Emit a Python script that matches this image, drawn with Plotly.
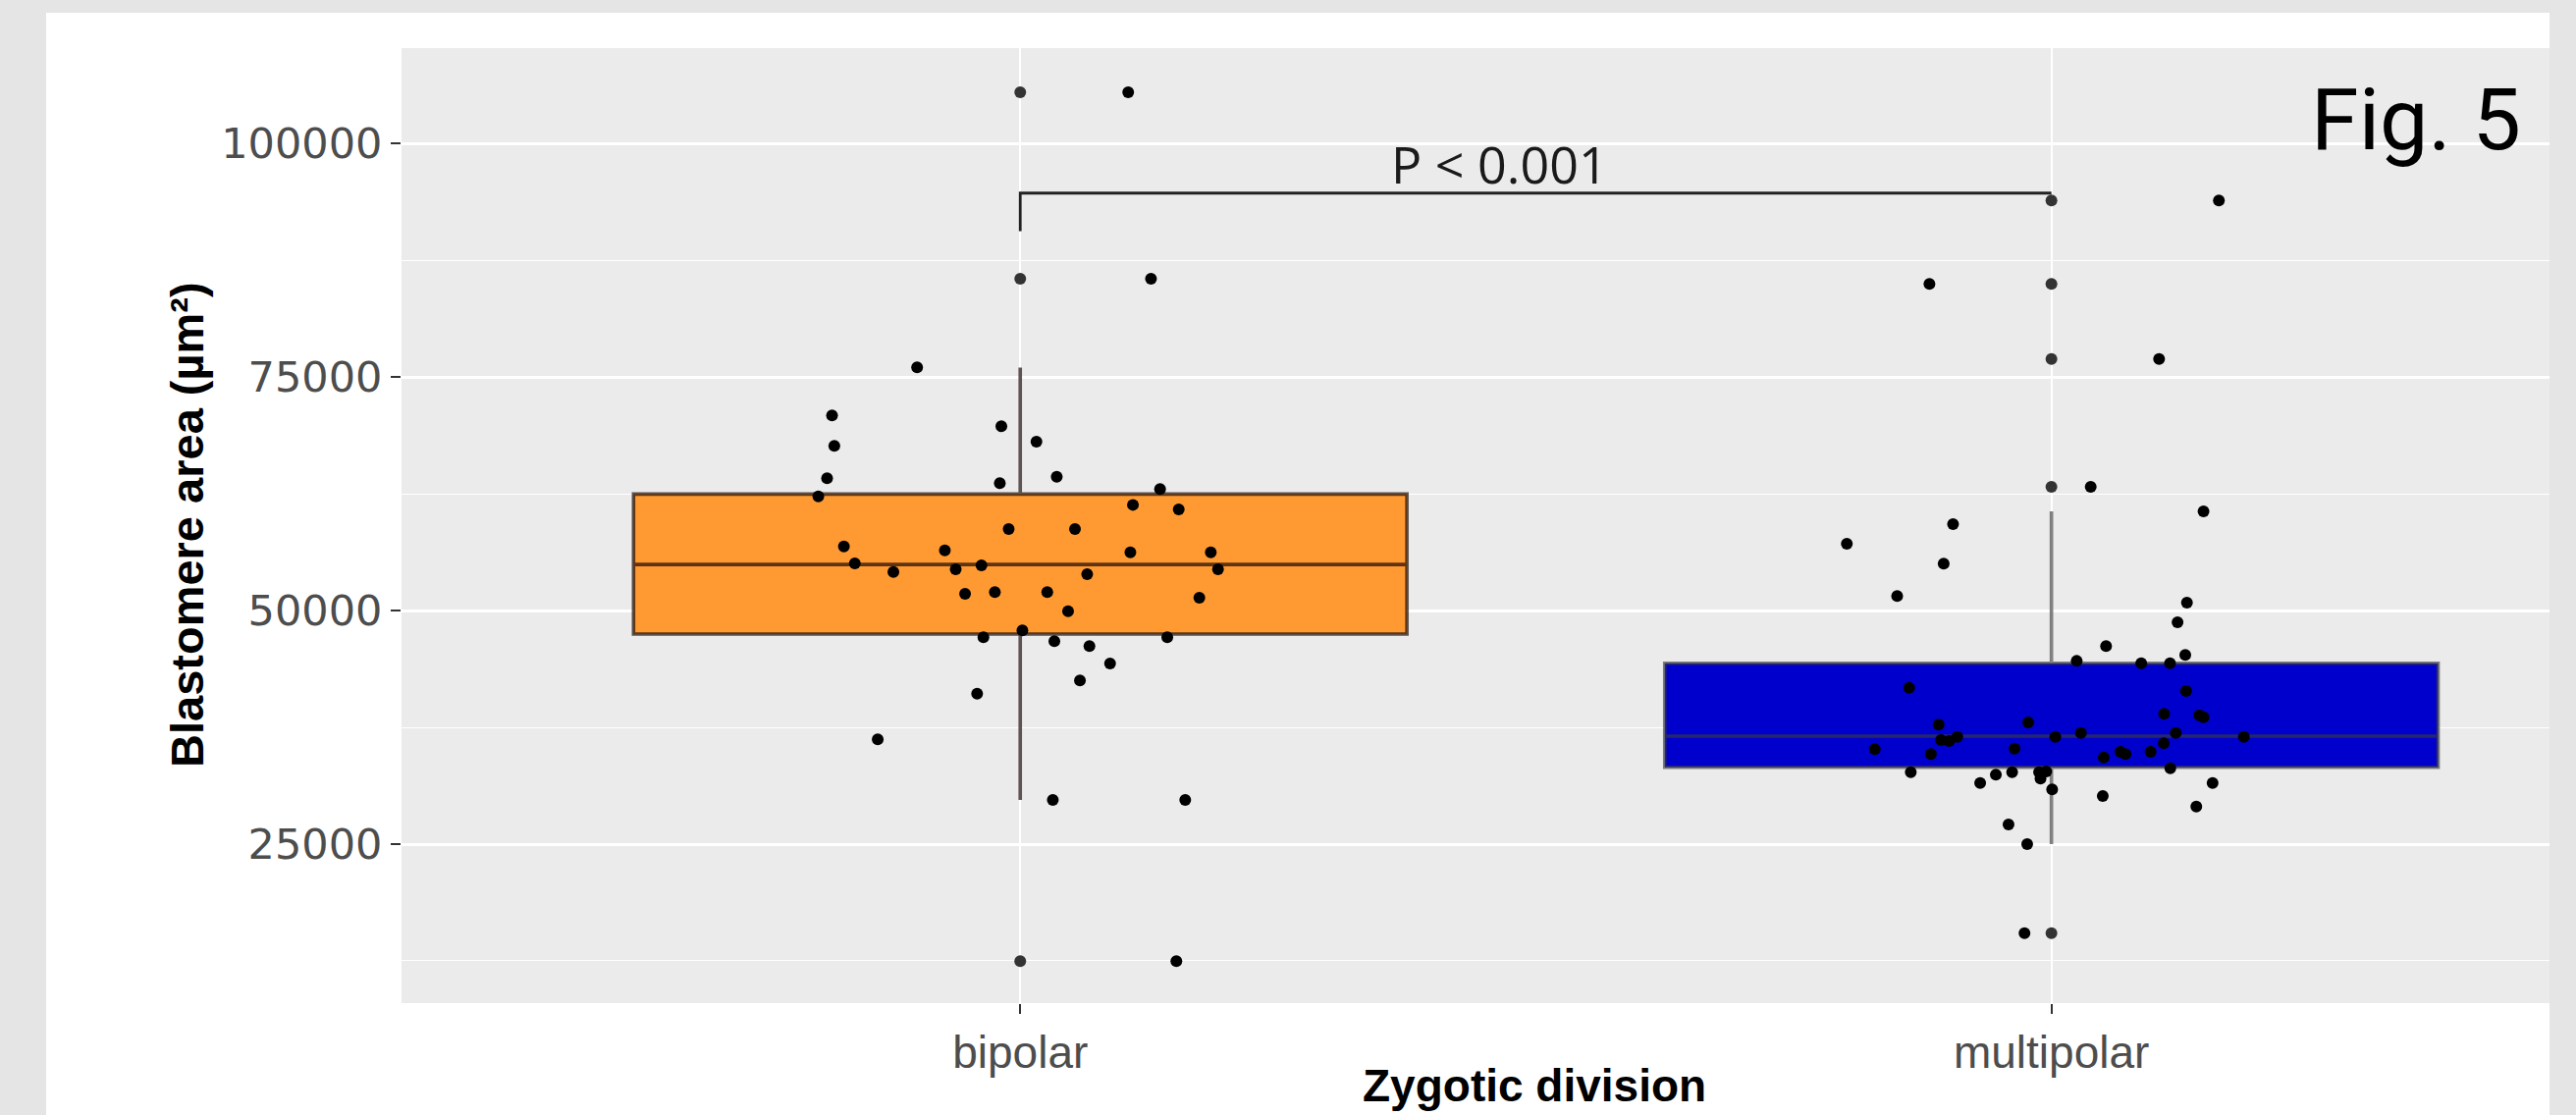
import plotly.graph_objects as go

# ---------------- data ----------------
categories = ["bipolar", "multipolar"]
cat_pos = [1, 2]

# box statistics per group (q1, median, q3, whisker ends)
box_q1 = [47490, 33230]
box_median = [54950, 36560]
box_q3 = [62490, 44370]
box_low = [29730, 25000]
box_high = [76030, 60630]
box_colors = ["#FF9A33", "#0000CC"]

# outliers drawn by the box plot (at the group centre)
bipolar_outliers = [105500, 85540, 12470]
multipolar_outliers = [93930, 84990, 76950, 63260, 15470]

# jittered observations: horizontal jitter (offset from group centre) and value
bipolar_jitter = [-0.100, -0.1825, -0.1803, -0.0183, 0.0157, -0.1873, -0.0198, 0.0354,
                  -0.1958, 0.1356, 0.1093, 0.1537, -0.0112, 0.0531, -0.171, -0.0731,
                  0.1068, 0.1848, -0.1604, -0.123, -0.0626, -0.0376, 0.0649, 0.1918,
                  -0.0535, -0.0246, 0.0262, 0.1737, 0.0464, 0.0021, -0.0357, 0.0331,
                  0.1426, 0.0671, 0.0871, 0.0579, -0.0418, -0.1382, 0.0316, 0.16,
                  0.1047, 0.1268, 0.1514]
bipolar_values = [76050, 70900, 67640, 69740, 68090, 64170, 63650, 64340,
                  62240, 63020, 61330, 60840, 58740, 58740, 56880, 56460,
                  56250, 56250, 55060, 54150, 54430, 54850, 53900, 54430,
                  51800, 51980, 51980, 51380, 49940, 47880, 47150, 46730,
                  47150, 46200, 44340, 42520, 41110, 36220, 29730, 29730,
                  105500, 85540, 12470]

multipolar_jitter = [0.0381, 0.1475, -0.0954, -0.1984, -0.1045, -0.1496, 0.1314, 0.1223,
                     0.053, 0.1298, 0.0245, 0.0871, 0.1150, -0.138, 0.1306, 0.1093,
                     0.1475, 0.1434, -0.1094, -0.0225, -0.1071, -0.0992, -0.0913, -0.1713,
                     0.0038, 0.0286, 0.1206, 0.1866, -0.0358, -0.1169, 0.0669, 0.0718,
                     0.0507, 0.0962, 0.1089, 0.1153, -0.1364, -0.0539, -0.0381, -0.012,
                     -0.005, -0.0106, -0.0691, 0.0007, 0.0498, 0.1563, 0.1405, -0.0416,
                     -0.0235, -0.0261, 0.1624, -0.1183, 0.1044]
multipolar_values = [63260, 60630, 59260, 57160, 55030, 51560, 50860, 48760,
                     46200, 45260, 44620, 44370, 44370, 41750, 41400, 38950,
                     38590, 38800, 37790, 38040, 36140, 36040, 36490, 35170,
                     36490, 36910, 36910, 36490, 35230, 34640, 34880, 34640,
                     34280, 34880, 35800, 33130, 32710, 32430, 32710, 32710,
                     32780, 32010, 31550, 30860, 30150, 31550, 29030, 27100,
                     25000, 15470, 93930, 84990, 76950]

y_ticks = [25000, 50000, 75000, 100000]
p_label = "P < 0.001"
bracket_y = 94710
bracket_drop = 90640

# ---------------- figure ----------------
fig = go.Figure()

box_line_colors = ["rgba(20,5,0,0.68)", "rgba(60,60,60,0.64)"]
for i in range(2):
    fig.add_trace(go.Box(
        x=[cat_pos[i]], q1=[box_q1[i]], median=[box_median[i]], q3=[box_q3[i]],
        lowerfence=[box_low[i]], upperfence=[box_high[i]],
        boxpoints=False, width=0.75, whiskerwidth=0,
        fillcolor=box_colors[i],
        line=dict(color=box_line_colors[i], width=3.6),
        hoverinfo="skip",
    ))

# outliers at group centres
fig.add_trace(go.Scatter(
    x=[cat_pos[0]] * len(bipolar_outliers) + [cat_pos[1]] * len(multipolar_outliers),
    y=bipolar_outliers + multipolar_outliers,
    mode="markers", marker=dict(color="#333333", size=12), hoverinfo="skip"))

# jittered points
fig.add_trace(go.Scatter(
    x=[cat_pos[0] + d for d in bipolar_jitter] + [cat_pos[1] + d for d in multipolar_jitter],
    y=bipolar_values + multipolar_values,
    mode="markers", marker=dict(color="black", size=12), hoverinfo="skip"))

# significance bracket
fig.add_trace(go.Scatter(
    x=[cat_pos[0], cat_pos[0], cat_pos[1]],
    y=[bracket_drop, bracket_y, bracket_y],
    mode="lines", line=dict(color="#222222", width=2.8), hoverinfo="skip"))

W, H = 2624, 1136
ml, mr, mt, mb = 409, 27, 49, 114
pw, ph = W - ml - mr, H - mt - mb

def px_x(px):
    return (px - ml) / pw

def px_y(py):
    return (H - mb - py) / ph

border = "#e5e5e5"
shapes = [
    dict(type="rect", xref="paper", yref="paper", x0=px_x(-10), x1=px_x(47), y0=px_y(H + 10), y1=px_y(-10),
         fillcolor=border, line=dict(width=0), layer="above"),
    dict(type="rect", xref="paper", yref="paper", x0=px_x(-10), x1=px_x(W + 10), y0=px_y(13), y1=px_y(-10),
         fillcolor=border, line=dict(width=0), layer="above"),
    dict(type="rect", xref="paper", yref="paper", x0=px_x(2597), x1=px_x(W + 10), y0=px_y(H + 10), y1=px_y(-10),
         fillcolor=border, line=dict(width=0), layer="above"),
]

annotations = [
    dict(text=p_label, x=1.465, y=97900, xref="x", yref="y", showarrow=False,
         xanchor="center", yanchor="middle",
         font=dict(family="Open Sans, Noto Sans, sans-serif", size=52, color="#1a1a1a")),
    dict(text="Fig. 5", x=px_x(2461), y=px_y(122), xref="paper", yref="paper", showarrow=False,
         xanchor="center", yanchor="middle",
         font=dict(family="Liberation Sans Narrow, Roboto, sans-serif", size=88, color="black", weight=400)),
    dict(text="Blastomere area (µm²)", x=px_x(190), y=px_y(535), xref="paper", yref="paper",
         showarrow=False, textangle=-90, xanchor="center", yanchor="middle",
         font=dict(family="Liberation Sans, Arial, sans-serif", size=47, color="black", weight="bold")),
    dict(text="Zygotic division", x=px_x(1563), y=px_y(1106), xref="paper", yref="paper",
         showarrow=False, xanchor="center", yanchor="middle",
         font=dict(family="Liberation Sans, Arial, sans-serif", size=46, color="black", weight="bold")),
]

fig.update_layout(
    width=W, height=H,
    margin=dict(l=ml, r=mr, t=mt, b=mb),
    paper_bgcolor="white", plot_bgcolor="#ebebeb",
    showlegend=False,
    shapes=shapes, annotations=annotations,
    xaxis=dict(range=[0.4, 2.483], tickvals=cat_pos, ticktext=categories,
               showgrid=True, gridcolor="white", gridwidth=2.4, zeroline=False,
               ticks="outside", ticklen=10, tickwidth=2, tickcolor="#333333",
               tickfont=dict(family="Liberation Sans, Arial, sans-serif", size=46, color="#4d4d4d"),
               showline=False, fixedrange=True),
    yaxis=dict(range=[7980, 110240], tickvals=y_ticks, ticktext=[str(v) for v in y_ticks],
               showgrid=True, gridcolor="white", gridwidth=2.7, zeroline=False,
               ticks="outside", ticklen=10, tickwidth=2, tickcolor="#333333",
               tickfont=dict(family="DejaVu Sans, sans-serif", size=43, color="#4d4d4d"),
               minor=dict(dtick=12500, tick0=0, showgrid=True, gridcolor="white", gridwidth=1.3),
               showline=False, fixedrange=True),
)

fig.write_html("out.html")
